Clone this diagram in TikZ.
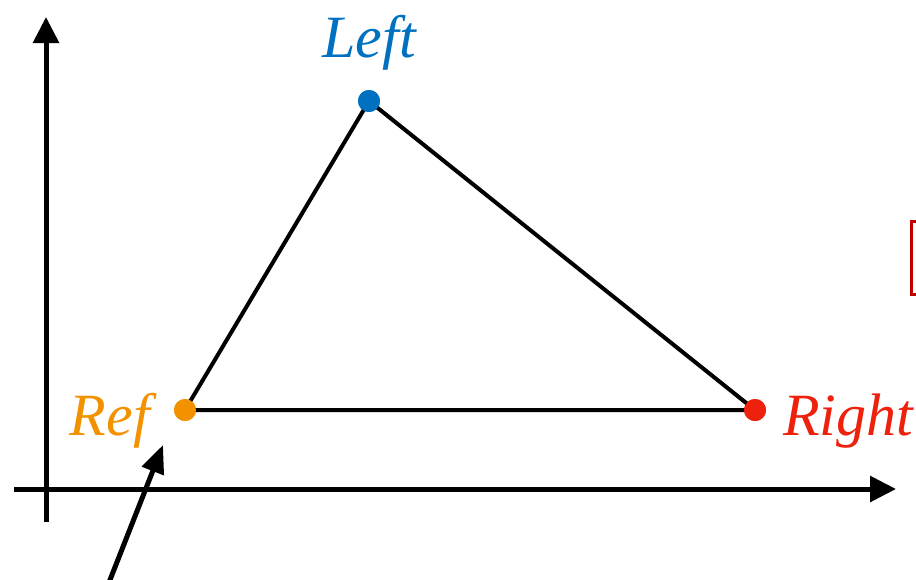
\documentclass[tikz,border=0pt]{standalone}
\usepackage{fontspec}
\setmainfont{Liberation Serif}
\usetikzlibrary{arrows.meta}
\definecolor{cleft}{HTML}{0070C0}
\definecolor{cref}{HTML}{F39200}
\definecolor{cright}{HTML}{EE220C}
\definecolor{cbox}{HTML}{C00000}
\begin{document}
\begin{tikzpicture}[x=0.75pt,y=-0.75pt,
  axis/.style={line width=3.75pt,-{Triangle[length=19.5pt,width=19pt]}},
  edge/.style={line width=3pt},
  dot/.style={circle,inner sep=0pt,minimum size=16.5pt},
  lbl/.style={font=\fontsize{45}{54}\selectfont\itshape,inner sep=0pt}]
\useasboundingbox (0,0) rectangle (916,579);
\clip (0,0) rectangle (916,579);
\coordinate (yb) at (46,522);
\coordinate (yt) at (46,17);
\coordinate (xb) at (14,489);
\coordinate (xt) at (896,489);
\draw[axis] (yb) -- (yt);
\draw[axis] (xb) -- (xt);
\node[dot,fill=cref] (ref) at (185,410) {};
\node[dot,fill=cleft] (left) at (369,101) {};
\node[dot,fill=cright] (right) at (755,410) {};
\draw[edge] (ref.center) -- (left.center) -- (right.center) -- cycle;
\node[dot,fill=cref] at (ref) {};
\node[dot,fill=cleft] at (left) {};
\node[dot,fill=cright] at (right) {};
\node[lbl,text=cleft,anchor=base] (lleft) at (369,57) {Left};
\node[lbl,text=cref,anchor=base east] (lref) at (150,435) {Ref};
\node[lbl,text=cright,anchor=base west] (lright) at (783,435) {Right};
\coordinate (pb) at (108,585);
\coordinate (pt) at (163,445);
\draw[line width=3.75pt,-{Triangle[length=21pt,width=17pt]}] (pb) -- (pt);
\node[draw=cbox,line width=2.25pt,minimum width=60pt,minimum height=55pt,anchor=north west,inner sep=0pt] (box) at (910,220) {};
\end{tikzpicture}
\end{document}
